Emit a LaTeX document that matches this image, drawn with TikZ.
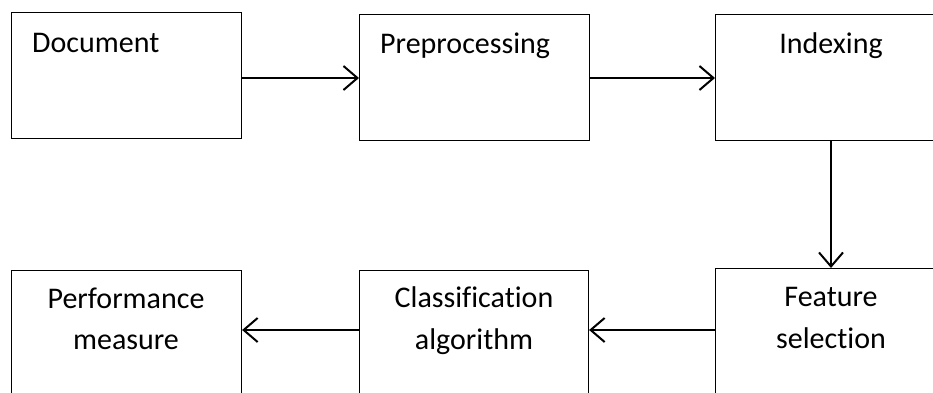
\documentclass[tikz,border=0pt]{standalone}
\usepackage{fontspec}
\setmainfont{Carlito}[Ligatures=NoCommon]
\usetikzlibrary{arrows.meta}
\begin{document}
\begin{tikzpicture}[x=1pt,y=-1pt,
  box/.style={draw=black, line width=1.1pt, rectangle, anchor=north west, inner sep=0pt, fill=white},
  lbl/.style={font=\fontsize{30}{40}\selectfont, inner sep=0pt, align=center},
  conn/.style={line width=2pt, -{Straight Barb[length=14pt,width=24pt,line width=2pt]}}]
\useasboundingbox (0,0) rectangle (933,392);
\clip (0,0) rectangle (933,392);
\fill[white] (0,0) rectangle (933,392);
% boxes
\node[box, minimum width=230pt, minimum height=126pt] (doc) at (11,12) {};
\node[box, minimum width=230pt, minimum height=126pt] (pre) at (359,14) {};
\node[box, minimum width=232pt, minimum height=126pt] (idx) at (715,14) {};
\node[box, minimum width=232pt, minimum height=140pt] (feat) at (715,268) {};
\node[box, minimum width=229pt, minimum height=140pt] (cls) at (359,270) {};
\node[box, minimum width=230pt, minimum height=140pt] (perf) at (11,270) {};
% labels
\node[lbl, anchor=base west] (tdoc) at (32,52) {Document};
\node[lbl, anchor=base west] (tpre) at (380,53) {Preprocessing};
\node[lbl, anchor=base] (tidx) at (831,53) {Indexing};
\node[lbl, anchor=base] (tfeat1) at (831,306) {Feature};
\node[lbl, anchor=base] (tfeat2) at (831,348) {selection};
\node[lbl, anchor=base] (tcls1) at (474,307) {Classification};
\node[lbl, anchor=base] (tcls2) at (474,349) {algorithm};
\node[lbl, anchor=base] (tperf1) at (126,308) {Performance};
\node[lbl, anchor=base] (tperf2) at (126,349) {measure};
% connectors
\coordinate (a1) at (241,78);
\coordinate (a2) at (589,78);
\coordinate (a3) at (831,140);
\coordinate (a4) at (715,330);
\coordinate (a5) at (359,330);
\draw[conn] (a1) -- (a1 -| pre.west);
\draw[conn] (a2) -- (a2 -| idx.west);
\draw[conn] (a3) -- (a3 |- feat.north);
\draw[conn] (a4) -- (a4 -| cls.east);
\draw[conn] (a5) -- (a5 -| perf.east);
\end{tikzpicture}
\end{document}
